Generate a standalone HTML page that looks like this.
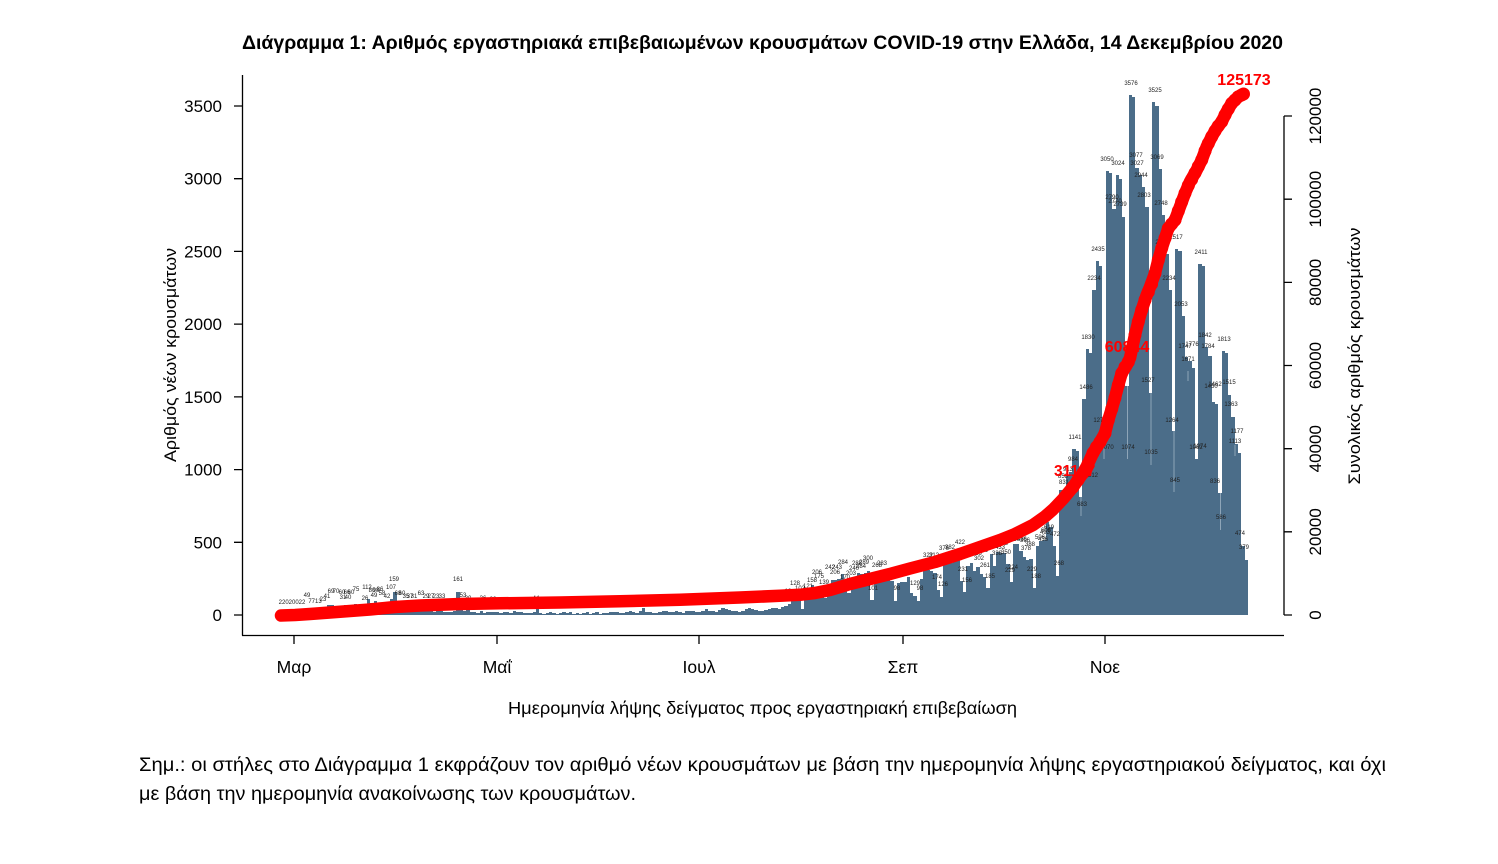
<!DOCTYPE html>
<html><head><meta charset="utf-8">
<style>
html,body{margin:0;padding:0;background:#fff;}
body{width:1498px;height:864px;position:relative;overflow:hidden;}
#bars{position:absolute;left:280.76px;top:0;width:966.52px;height:615px;display:flex;align-items:flex-end;}
#bars i{display:block;flex:1 1 0;min-width:0;height:calc(var(--v) * 0.14543px);background:#4b6d89;}
svg{position:absolute;left:0;top:0;}
text{font-family:"Liberation Sans","DejaVu Sans",sans-serif;}
.bl{font-size:6px;fill:#222;text-anchor:middle;}
</style></head><body>
<div id="bars">
<i style="--v:2"></i><i style="--v:2"></i><i style="--v:0"></i><i style="--v:2"></i>
<i style="--v:0"></i><i style="--v:0"></i><i style="--v:2"></i><i style="--v:2"></i><i style="--v:49"></i><i style="--v:7"></i><i style="--v:7"></i><i style="--v:13"></i><i style="--v:23"></i><i style="--v:41"></i><i style="--v:69"></i><i style="--v:70"></i><i style="--v:60"></i><i style="--v:31"></i><i style="--v:40"></i><i style="--v:66"></i><i style="--v:60"></i><i style="--v:66"></i><i style="--v:75"></i><i style="--v:49"></i><i style="--v:26"></i><i style="--v:42"></i><i style="--v:112"></i><i style="--v:80"></i><i style="--v:98"></i><i style="--v:86"></i><i style="--v:49"></i><i style="--v:58"></i><i style="--v:42"></i><i style="--v:107"></i><i style="--v:159"></i>
<i style="--v:68"></i><i style="--v:60"></i><i style="--v:35"></i><i style="--v:37"></i><i style="--v:31"></i><i style="--v:60"></i><i style="--v:37"></i><i style="--v:31"></i><i style="--v:63"></i><i style="--v:29"></i><i style="--v:27"></i><i style="--v:23"></i><i style="--v:33"></i><i style="--v:25"></i><i style="--v:20"></i><i style="--v:18"></i><i style="--v:22"></i><i style="--v:25"></i><i style="--v:161"></i><i style="--v:53"></i><i style="--v:30"></i><i style="--v:36"></i><i style="--v:22"></i><i style="--v:20"></i><i style="--v:16"></i><i style="--v:26"></i><i style="--v:15"></i><i style="--v:20"></i><i style="--v:18"></i><i style="--v:22"></i>
<i style="--v:20"></i><i style="--v:15"></i><i style="--v:22"></i><i style="--v:18"></i><i style="--v:12"></i><i style="--v:25"></i><i style="--v:20"></i><i style="--v:18"></i><i style="--v:15"></i><i style="--v:12"></i><i style="--v:16"></i><i style="--v:22"></i><i style="--v:44"></i><i style="--v:15"></i><i style="--v:10"></i><i style="--v:12"></i><i style="--v:18"></i><i style="--v:14"></i><i style="--v:10"></i><i style="--v:15"></i><i style="--v:20"></i><i style="--v:12"></i><i style="--v:18"></i><i style="--v:10"></i><i style="--v:12"></i><i style="--v:8"></i><i style="--v:15"></i><i style="--v:20"></i><i style="--v:10"></i><i style="--v:12"></i><i style="--v:18"></i>
<i style="--v:10"></i><i style="--v:12"></i><i style="--v:15"></i><i style="--v:18"></i><i style="--v:20"></i><i style="--v:22"></i><i style="--v:15"></i><i style="--v:12"></i><i style="--v:18"></i><i style="--v:25"></i><i style="--v:20"></i><i style="--v:15"></i><i style="--v:30"></i><i style="--v:47"></i><i style="--v:20"></i><i style="--v:18"></i><i style="--v:15"></i><i style="--v:12"></i><i style="--v:22"></i><i style="--v:25"></i><i style="--v:30"></i><i style="--v:20"></i><i style="--v:18"></i><i style="--v:25"></i><i style="--v:20"></i><i style="--v:15"></i><i style="--v:28"></i><i style="--v:30"></i><i style="--v:25"></i><i style="--v:20"></i>
<i style="--v:20"></i><i style="--v:25"></i><i style="--v:40"></i><i style="--v:30"></i><i style="--v:28"></i><i style="--v:22"></i><i style="--v:35"></i><i style="--v:45"></i><i style="--v:40"></i><i style="--v:35"></i><i style="--v:30"></i><i style="--v:25"></i><i style="--v:22"></i><i style="--v:30"></i><i style="--v:38"></i><i style="--v:45"></i><i style="--v:40"></i><i style="--v:32"></i><i style="--v:28"></i><i style="--v:30"></i><i style="--v:35"></i><i style="--v:40"></i><i style="--v:45"></i><i style="--v:48"></i><i style="--v:40"></i><i style="--v:55"></i><i style="--v:62"></i><i style="--v:79"></i><i style="--v:95"></i><i style="--v:128"></i><i style="--v:102"></i>
<i style="--v:40"></i><i style="--v:121"></i><i style="--v:158"></i><i style="--v:206"></i><i style="--v:175"></i><i style="--v:139"></i><i style="--v:200"></i><i style="--v:120"></i><i style="--v:206"></i><i style="--v:243"></i><i style="--v:243"></i><i style="--v:250"></i><i style="--v:284"></i><i style="--v:170"></i><i style="--v:150"></i><i style="--v:203"></i><i style="--v:240"></i><i style="--v:288"></i><i style="--v:284"></i><i style="--v:289"></i><i style="--v:300"></i><i style="--v:101"></i><i style="--v:268"></i><i style="--v:283"></i><i style="--v:250"></i><i style="--v:240"></i><i style="--v:260"></i><i style="--v:233"></i><i style="--v:98"></i><i style="--v:220"></i><i style="--v:230"></i>
<i style="--v:230"></i><i style="--v:260"></i><i style="--v:150"></i><i style="--v:129"></i><i style="--v:98"></i><i style="--v:250"></i><i style="--v:322"></i><i style="--v:312"></i><i style="--v:300"></i><i style="--v:290"></i><i style="--v:174"></i><i style="--v:126"></i><i style="--v:376"></i><i style="--v:382"></i><i style="--v:360"></i><i style="--v:435"></i><i style="--v:422"></i><i style="--v:231"></i><i style="--v:156"></i><i style="--v:339"></i><i style="--v:356"></i><i style="--v:302"></i><i style="--v:330"></i><i style="--v:280"></i><i style="--v:261"></i><i style="--v:185"></i><i style="--v:420"></i><i style="--v:338"></i><i style="--v:433"></i><i style="--v:423"></i>
<i style="--v:423"></i><i style="--v:350"></i><i style="--v:229"></i><i style="--v:486"></i><i style="--v:486"></i><i style="--v:440"></i><i style="--v:396"></i><i style="--v:378"></i><i style="--v:388"></i><i style="--v:188"></i><i style="--v:476"></i><i style="--v:506"></i><i style="--v:519"></i><i style="--v:641"></i><i style="--v:606"></i><i style="--v:472"></i><i style="--v:268"></i><i style="--v:858"></i><i style="--v:831"></i><i style="--v:960"></i><i style="--v:984"></i><i style="--v:1141"></i><i style="--v:1130"></i><i style="--v:812"></i><i style="--v:1486"></i><i style="--v:1830"></i><i style="--v:1800"></i><i style="--v:2234"></i><i style="--v:2435"></i><i style="--v:2400"></i><i style="--v:1270"></i>
<i style="--v:3050"></i><i style="--v:3040"></i><i style="--v:2790"></i><i style="--v:3024"></i><i style="--v:3000"></i><i style="--v:2739"></i><i style="--v:1574"></i><i style="--v:3576"></i><i style="--v:3560"></i><i style="--v:3077"></i><i style="--v:3027"></i><i style="--v:2944"></i><i style="--v:2803"></i><i style="--v:1527"></i><i style="--v:3525"></i><i style="--v:3500"></i><i style="--v:3069"></i><i style="--v:2748"></i><i style="--v:2483"></i><i style="--v:2234"></i><i style="--v:1264"></i><i style="--v:2517"></i><i style="--v:2500"></i><i style="--v:2053"></i><i style="--v:1776"></i><i style="--v:1747"></i><i style="--v:1700"></i><i style="--v:1074"></i><i style="--v:2411"></i><i style="--v:2400"></i>
<i style="--v:1842"></i><i style="--v:1784"></i><i style="--v:1462"></i><i style="--v:1450"></i><i style="--v:836"></i><i style="--v:1813"></i><i style="--v:1800"></i><i style="--v:1515"></i><i style="--v:1363"></i><i style="--v:1177"></i><i style="--v:1113"></i><i style="--v:474"></i><i style="--v:379"></i>
</div>
<svg width="1498" height="864" viewBox="0 0 1498 864" xmlns="http://www.w3.org/2000/svg">
<g stroke="#9fb3c4" stroke-width="0.8">
<path d="M1081 497V516M1104 430V459M1127.5 386V459M1151 393V465M1174 431V492M1220.5 493V530M1188 371V381M1235 445V456"/>
</g>
<text x="242" y="49" font-size="19" font-weight="bold" textLength="1041" lengthAdjust="spacingAndGlyphs">Διάγραμμα 1: Αριθμός εργαστηριακά επιβεβαιωμένων κρουσμάτων COVID-19 στην Ελλάδα, 14 Δεκεμβρίου 2020</text>
<g stroke="#000" stroke-width="1.3" fill="none">
<path d="M242.5 75V635.5M242 635.5H1284"/>
<path d="M234 615H242.5M234 542.3H242.5M234 469.6H242.5M234 396.9H242.5M234 324.1H242.5M234 251.4H242.5M234 178.7H242.5M234 106H242.5"/>
<path d="M294 635.5V644M497 635.5V644M699 635.5V644M903 635.5V644M1105 635.5V644"/>
<path d="M1284 116V615M1284 615H1292M1284 531.8H1292M1284 448.7H1292M1284 365.5H1292M1284 282.4H1292M1284 199.2H1292M1284 116H1292"/>
</g>
<g font-size="17" text-anchor="end" fill="#000">
<text x="222" y="621">0</text>
<text x="222" y="548.3">500</text>
<text x="222" y="475.6">1000</text>
<text x="222" y="402.9">1500</text>
<text x="222" y="330.1">2000</text>
<text x="222" y="257.4">2500</text>
<text x="222" y="184.7">3000</text>
<text x="222" y="112">3500</text>
</g>
<text transform="translate(176,355) rotate(-90)" font-size="17" text-anchor="middle" textLength="214" lengthAdjust="spacingAndGlyphs">Αριθμός νέων κρουσμάτων</text>
<g font-size="17" text-anchor="middle" fill="#000">
<text transform="translate(1321,615) rotate(-90)">0</text>
<text transform="translate(1321,531.8) rotate(-90)">20000</text>
<text transform="translate(1321,448.7) rotate(-90)">40000</text>
<text transform="translate(1321,365.5) rotate(-90)">60000</text>
<text transform="translate(1321,282.4) rotate(-90)">80000</text>
<text transform="translate(1321,199.2) rotate(-90)">100000</text>
<text transform="translate(1321,116) rotate(-90)">120000</text>
</g>
<text transform="translate(1360,356) rotate(-90)" font-size="17" text-anchor="middle" textLength="257" lengthAdjust="spacingAndGlyphs">Συνολικός αριθμός κρουσμάτων</text>
<g font-size="17.5" text-anchor="middle">
<text x="294" y="673">Μαρ</text>
<text x="497" y="673">Μαΐ</text>
<text x="699" y="673">Ιουλ</text>
<text x="903" y="673">Σεπ</text>
<text x="1105" y="673">Νοε</text>
</g>
<text x="508" y="714" font-size="17.5" textLength="509" lengthAdjust="spacingAndGlyphs">Ημερομηνία λήψης δείγματος προς εργαστηριακή επιβεβαίωση</text>
<text x="139" y="771" font-size="19" textLength="1247" lengthAdjust="spacingAndGlyphs">Σημ.: οι στήλες στο Διάγραμμα 1 εκφράζουν τον αριθμό νέων κρουσμάτων με βάση την ημερομηνία λήψης εργαστηριακού δείγματος, και όχι</text>
<text x="139" y="800" font-size="19" textLength="497" lengthAdjust="spacingAndGlyphs">με βάση την ημερομηνία ανακοίνωσης των κρουσμάτων.</text>
<g class="bl">
<text x="292" y="604">22020022</text>
<text x="307" y="597">49</text><text x="315" y="603">7713</text><text x="323" y="601">23</text><text x="327" y="598">41</text>
<text x="331" y="593">69</text><text x="336" y="593">70</text><text x="342" y="594">60</text><text x="347" y="594">66</text><text x="351" y="594">60</text><text x="356" y="591">75</text>
<text x="343" y="599">31</text><text x="348" y="599">40</text><text x="365" y="600">26</text><text x="367" y="589">112</text><text x="372" y="592">80</text><text x="376" y="592">98</text><text x="380" y="591">86</text>
<text x="374" y="597">49</text><text x="382" y="595">58</text><text x="387" y="598">42</text><text x="391" y="589">107</text><text x="394" y="581">159</text>
<text x="398" y="595">68</text><text x="402" y="595">60</text><text x="406" y="598">35</text><text x="410" y="598">37</text><text x="414" y="598">31</text><text x="421" y="595">63</text>
<text x="426" y="598">29</text><text x="431" y="598">27</text><text x="436" y="598">23</text><text x="442" y="598">33</text>
<text x="458" y="581">161</text><text x="463" y="597">53</text><text x="468" y="600">30</text><text x="483" y="600">36</text><text x="493" y="601">22</text><text x="536" y="600">44</text>
<text x="788" y="593">18</text><text x="795" y="585">128</text><text x="800" y="590">102</text><text x="808" y="588">121</text><text x="812" y="582">158</text>
<text x="817" y="574">206</text><text x="819" y="578">175</text><text x="824" y="584">139</text><text x="830" y="569">242</text><text x="837" y="569">243</text><text x="835" y="574">206</text>
<text x="843" y="564">284</text><text x="845" y="579">170</text><text x="851" y="575">203</text><text x="854" y="570">240</text><text x="857" y="565">288</text><text x="861" y="568">284</text><text x="864" y="564">289</text><text x="868" y="560">300</text>
<text x="873" y="590">101</text><text x="877" y="567">268</text><text x="882" y="565">283</text><text x="897" y="590">98</text>
<text x="915" y="585">129</text><text x="920" y="590">98</text><text x="928" y="557">322</text><text x="934" y="557">312</text><text x="937" y="579">174</text><text x="943" y="586">126</text>
<text x="944" y="550">376</text><text x="950" y="549">382</text><text x="960" y="544">422</text><text x="963" y="571">231</text><text x="967" y="582">156</text>
<text x="977" y="555">339</text><text x="983" y="552">356</text><text x="979" y="560">302</text><text x="985" y="567">261</text><text x="990" y="578">185</text>
<text x="997" y="555">338</text><text x="1000" y="549">433</text><text x="1003" y="545">423</text><text x="1006" y="554">350</text><text x="1010" y="572">229</text><text x="1013" y="569">224</text>
<text x="1015" y="541">486</text><text x="1022" y="541">486</text><text x="1025" y="542">396</text><text x="1026" y="550">378</text><text x="1030" y="546">388</text><text x="1032" y="571">229</text><text x="1036" y="578">188</text>
<text x="1040" y="539">506</text><text x="1043" y="541">436</text><text x="1045" y="534">493</text><text x="1046" y="532">606</text><text x="1049" y="529">619</text><text x="1055" y="536">472</text><text x="1059" y="565">268</text>
<text x="1063" y="478">858</text><text x="1064" y="484">831</text><text x="1068" y="471">913</text><text x="1073" y="461">984</text><text x="1075" y="439">1141</text><text x="1082" y="506">683</text><text x="1093" y="477">812</text>
<text x="1086" y="389">1486</text><text x="1088" y="339">1830</text><text x="1094" y="280">2234</text><text x="1098" y="251">2435</text><text x="1100" y="422">1270</text><text x="1107" y="449">1070</text>
<text x="1107" y="161">3050</text><text x="1118" y="165">3024</text><text x="1112" y="199">2790</text><text x="1115" y="203">2770</text><text x="1120" y="206">2739</text>
<text x="1131" y="85">3576</text><text x="1136" y="157">3077</text><text x="1137" y="165">3027</text><text x="1141" y="177">2944</text><text x="1144" y="197">2803</text><text x="1128" y="449">1074</text>
<text x="1148" y="382">1527</text><text x="1151" y="454">1035</text><text x="1155" y="92">3525</text><text x="1157" y="159">3069</text><text x="1161" y="205">2748</text><text x="1162" y="244">2483</text>
<text x="1169" y="280">2234</text><text x="1172" y="422">1264</text><text x="1175" y="482">845</text><text x="1176" y="239">2517</text><text x="1181" y="306">2053</text>
<text x="1185" y="348">1747</text><text x="1192" y="346">1776</text><text x="1188" y="361">1671</text><text x="1196" y="449">1062</text><text x="1200" y="448">1074</text>
<text x="1201" y="254">2411</text><text x="1205" y="337">1842</text><text x="1208" y="348">1784</text><text x="1211" y="388">1450</text><text x="1215" y="386">1462</text><text x="1215" y="483">836</text>
<text x="1221" y="519">586</text><text x="1224" y="341">1813</text><text x="1229" y="384">1515</text><text x="1231" y="406">1363</text><text x="1237" y="433">1177</text><text x="1235" y="443">1113</text>
<text x="1240" y="535">474</text><text x="1244" y="549">379</text>
</g>
<g fill="#ff0000" font-weight="bold">
<text x="1244" y="85" font-size="16" text-anchor="middle">125173</text>
<text x="1127" y="352" font-size="16" text-anchor="middle">60844</text>
<text x="1054" y="476" font-size="15.5">31117</text>
</g>
<polyline fill="none" stroke="#ff0000" stroke-width="12.5" stroke-linecap="round" stroke-linejoin="round" points="281,615.5 295,615 310,614 330,612.5 350,611 370,609.5 395,607 420,605.5 460,604 500,603.3 560,602.5 620,601.3 680,599.8 740,597.5 780,595.8 800,594.8 815,593 830,590 850,584 870,579 890,574 910,568.5 935,562 960,554 980,547 1000,540 1015,534 1033,525 1045,516.5 1053,509.5 1063,499 1073,487 1083,473 1088,464 1093,453 1100,442 1105,433.3 1108.3,420 1111.7,409 1115,397.7 1118.3,385 1121.7,373.3 1126.7,365 1130,358 1135,335 1138.3,321.7 1141.7,310 1146.7,295 1150,287 1155,273.3 1158.3,260 1161.7,248.3 1165,238.3 1168.3,228.3 1175,220 1180,206.7 1185,193.3 1190,181.7 1196.7,170 1201.7,160 1206.7,146.7 1211.7,136.7 1216.7,128.3 1221.7,121.7 1226.7,111.7 1231.7,103.3 1238.3,96.7 1243.3,94"/>
<g fill="#ff0000">
<circle cx="1073" cy="487" r="6.5"/><circle cx="1078" cy="480" r="6.5"/><circle cx="1083" cy="473" r="6.5"/><circle cx="1088" cy="464" r="6.5"/><circle cx="1093" cy="453" r="6.5"/><circle cx="1096.5" cy="447" r="6.5"/><circle cx="1100" cy="442" r="6.5"/><circle cx="1105" cy="433.3" r="6.5"/><circle cx="1108.3" cy="420" r="6.5"/><circle cx="1111.7" cy="409" r="6.5"/><circle cx="1115" cy="397.7" r="6.5"/><circle cx="1118.3" cy="385" r="6.5"/><circle cx="1121.7" cy="373.3" r="6.5"/><circle cx="1125" cy="367" r="6.5"/><circle cx="1128.3" cy="362" r="6.5"/><circle cx="1131.6" cy="349" r="6.5"/><circle cx="1135" cy="335" r="6.5"/><circle cx="1138.3" cy="321.7" r="6.5"/><circle cx="1141.7" cy="310" r="6.5"/><circle cx="1145" cy="300" r="6.5"/><circle cx="1148.3" cy="292" r="6.5"/><circle cx="1151.6" cy="284" r="6.5"/><circle cx="1155" cy="273.3" r="6.5"/><circle cx="1158.3" cy="260" r="6.5"/><circle cx="1161.7" cy="248.3" r="6.5"/><circle cx="1165" cy="238.3" r="6.5"/><circle cx="1168.3" cy="228.3" r="6.5"/><circle cx="1171.6" cy="224" r="6.5"/><circle cx="1175" cy="220" r="6.5"/><circle cx="1178.3" cy="211" r="6.5"/><circle cx="1181.6" cy="202" r="6.5"/><circle cx="1185" cy="193.3" r="6.5"/><circle cx="1188.3" cy="185.5" r="6.5"/><circle cx="1191.6" cy="179.5" r="6.5"/><circle cx="1195" cy="173" r="6.5"/><circle cx="1198.3" cy="166.5" r="6.5"/><circle cx="1201.7" cy="160" r="6.5"/><circle cx="1205" cy="151" r="6.5"/><circle cx="1208.3" cy="143.5" r="6.5"/><circle cx="1211.7" cy="136.7" r="6.5"/><circle cx="1215" cy="131" r="6.5"/><circle cx="1218.3" cy="126" r="6.5"/><circle cx="1221.7" cy="121.7" r="6.5"/><circle cx="1225" cy="115" r="6.5"/><circle cx="1228.3" cy="109" r="6.5"/><circle cx="1231.7" cy="103.3" r="6.5"/><circle cx="1235" cy="100" r="6.5"/><circle cx="1238.3" cy="96.7" r="6.5"/><circle cx="1241.6" cy="95" r="6.5"/><circle cx="1243.5" cy="94" r="6.5"/>
</g>
</svg>
</body></html>
